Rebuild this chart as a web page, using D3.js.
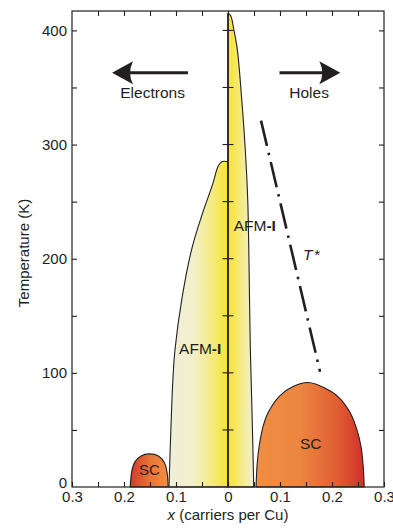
<!DOCTYPE html>
<html>
<head>
<meta charset="utf-8">
<script src="https://cdn.jsdelivr.net/npm/d3@7"></script>
<style>
  body { margin: 0; background: #fff; }
  svg text { font-family: "Liberation Sans", Arial, Helvetica, sans-serif; fill: #231f20; }
</style>
</head>
<body>
<svg id="chart" width="393" height="529"></svg>
<script>
// Data: x = carriers per Cu (electrons negative), T in K
const xTicks = d3.range(-0.3, 0.3001, 0.05).map(v => +v.toFixed(2));
const xLabels = [-0.3, -0.2, -0.1, 0, 0.1, 0.2, 0.3];
const tTicks = d3.range(0, 401, 50);
const tLabels = [0, 100, 200, 300, 400];

// AFM-I on the electron side, from the top at x = 0 down to the axis
const afmElectron = [[0, 285], [-0.012, 285], [-0.019, 281], [-0.029, 266], [-0.051, 237],
  [-0.070, 208], [-0.089, 164], [-0.102, 120], [-0.106, 94], [-0.1135, 0]];
// AFM-I on the hole side
const afmHole = [[0, 415], [0.005, 413], [0.0115, 400], [0.018, 383], [0.0265, 339],
  [0.0333, 295], [0.038, 251], [0.040, 208], [0.043, 120], [0.0465, 60], [0.0495, 0]];
// superconducting domes
const scElectron = [[-0.188, 0], [-0.185, 14], [-0.179, 22], [-0.168, 27], [-0.151, 29],
  [-0.133, 27], [-0.122, 21], [-0.117, 12], [-0.115, 0]];
const scHole = [[0.054, 0], [0.056, 20], [0.060, 36], [0.068, 54], [0.077, 65], [0.100, 80],
  [0.125, 88], [0.154, 91.5], [0.185, 87], [0.212, 79], [0.235, 65], [0.248, 50],
  [0.256, 35], [0.260, 18], [0.262, 0]];
// T* crossover line
const tStar = [[0.0635, 321], [0.177, 101]];

const svg = d3.select('#chart');
const x = d3.scaleLinear().domain([-0.3, 0.3]).range([72, 384]);
const y = d3.scaleLinear().domain([0, 417]).range([487, 11]);
const ink = '#231f20';

// gradients
const defs = svg.append('defs');
const addGrad = (id, x1, x2, stops) => {
  const g = defs.append('linearGradient')
    .attr('id', id)
    .attr('gradientUnits', 'userSpaceOnUse')
    .attr('x1', x(x1)).attr('x2', x(x2))
    .attr('y1', 0).attr('y2', 0);
  stops.forEach(s => g.append('stop').attr('offset', s[0]).attr('stop-color', s[1]));
};
addGrad('gAfmE', -0.1135, 0, [[0, '#efefd8'], [0.4, '#f2f0cc'], [0.75, '#f5ea7a'], [1, '#f7e42a']]);
addGrad('gAfmH', 0, 0.0495, [[0, '#f7e42a'], [0.25, '#f6e75a'], [1, '#f1f0d6']]);
addGrad('gScE', -0.188, -0.115, [[0, '#d43a27'], [0.55, '#e8773a'], [1, '#f08e42']]);
addGrad('gScH', 0.054, 0.262, [[0, '#f08e42'], [0.4, '#ec8640'], [0.75, '#e15e33'], [1, '#d0302a']]);

const curve = d3.line().x(d => x(d[0])).y(d => y(d[1])).curve(d3.curveCatmullRom.alpha(0.5));

// dome shapes, closed along the axis / the x = 0 line
const drawShape = (pts, fill, close) => {
  svg.append('path')
    .attr('d', curve(pts) + close)
    .attr('fill', fill)
    .attr('stroke', ink)
    .attr('stroke-width', 1.1)
    .attr('stroke-linejoin', 'round');
};
drawShape(afmElectron, 'url(#gAfmE)', `L${x(0)},${y(0)}Z`);
drawShape(afmHole, 'url(#gAfmH)', `L${x(0)},${y(0)}Z`);
drawShape(scElectron, 'url(#gScE)', 'Z');
drawShape(scHole, 'url(#gScH)', 'Z');

// x = 0 line with its own little ticks
svg.append('line')
  .attr('x1', x(0)).attr('x2', x(0))
  .attr('y1', y(0)).attr('y2', y(415))
  .attr('stroke', ink).attr('stroke-width', 1.6);
svg.append('g').selectAll('line')
  .data(tTicks.filter(t => t > 0))
  .join('line')
  .attr('x1', x(0) - 5.5).attr('x2', x(0) + 5.5)
  .attr('y1', d => y(d)).attr('y2', d => y(d))
  .attr('stroke', ink).attr('stroke-width', 1.1);

// T* dash-dot line
svg.append('line')
  .attr('x1', x(tStar[0][0])).attr('y1', y(tStar[0][1]))
  .attr('x2', x(tStar[1][0])).attr('y2', y(tStar[1][1]))
  .attr('stroke', ink).attr('stroke-width', 2.6)
  .attr('stroke-dasharray', '26,7,2.5,7');

// axes (ticks point inward)
const fmtX = d => xLabels.some(v => Math.abs(v - d) < 1e-9) ? d3.format('.1~f')(Math.abs(d)) : '';
const fmtT = d => tLabels.includes(d) ? d : '';

const styleAxis = g => {
  g.select('.domain').remove();
  g.selectAll('.tick line').attr('stroke', ink).attr('stroke-width', 1.1);
  g.selectAll('.tick text').style('font-size', '15px').attr('fill', ink);
};

svg.append('g')
  .attr('transform', `translate(0,${y(0)})`)
  .call(d3.axisBottom(x).tickValues(xTicks).tickSizeInner(-5).tickSizeOuter(0).tickPadding(4).tickFormat(fmtX))
  .call(styleAxis);
svg.append('g')
  .attr('transform', `translate(0,${y(417)})`)
  .call(d3.axisTop(x).tickValues(xTicks.slice(1, -1)).tickSizeInner(-5).tickSizeOuter(0).tickFormat(''))
  .call(styleAxis);
svg.append('g')
  .attr('transform', `translate(${x(-0.3)},0)`)
  .call(d3.axisLeft(y).tickValues(tTicks.slice(1)).tickSizeInner(-5).tickSizeOuter(0).tickPadding(5).tickFormat(fmtT))
  .call(styleAxis);
svg.append('g')
  .attr('transform', `translate(${x(0.3)},0)`)
  .call(d3.axisRight(y).tickValues(tTicks.slice(1)).tickSizeInner(-5).tickSizeOuter(0).tickFormat(''))
  .call(styleAxis);

// the "0" on the temperature axis sits just above the corner
svg.append('text')
  .attr('x', x(-0.3) - 5).attr('y', y(0) + 1)
  .attr('text-anchor', 'end')
  .style('font-size', '15px')
  .text('0');

// frame
svg.append('rect')
  .attr('x', x(-0.3)).attr('y', y(417))
  .attr('width', x(0.3) - x(-0.3)).attr('height', y(0) - y(417))
  .attr('fill', 'none').attr('stroke', ink).attr('stroke-width', 1.2);

// axis titles
const xt = svg.append('text')
  .attr('x', x(0)).attr('y', 520)
  .attr('text-anchor', 'middle')
  .style('font-size', '15px');
xt.append('tspan').style('font-style', 'italic').text('x');
xt.append('tspan').text(' (carriers per Cu)');

svg.append('text')
  .attr('transform', `translate(29,${y(205)}) rotate(-90)`)
  .attr('text-anchor', 'middle')
  .style('font-size', '15px')
  .text('Temperature (K)');

// arrows
const arrow = (from, to, tt) => {
  const x1 = x(from), x2 = x(to), yy = y(tt);
  const dir = Math.sign(x2 - x1);
  svg.append('line')
    .attr('x1', x1).attr('x2', x2 - dir * 12)
    .attr('y1', yy).attr('y2', yy)
    .attr('stroke', ink).attr('stroke-width', 3);
  svg.append('path')
    .attr('d', `M${x2},${yy} L${x2 - dir * 21},${yy - 11.5} Q${x2 - dir * 15},${yy} ${x2 - dir * 21},${yy + 11.5} Z`)
    .attr('fill', ink);
};
arrow(-0.077, -0.223, 363);
arrow(0.099, 0.216, 363);

const label = (txt, px, py, size, anchor) => svg.append('text')
  .attr('x', px).attr('y', py)
  .attr('text-anchor', anchor || 'middle')
  .style('font-size', size + 'px')
  .text(txt);

label('Electrons', x(-0.145), 98, 15.5);
label('Holes', x(0.156), 98, 15.5);
label('SC', x(-0.151), 475, 15);
label('SC', x(0.159), 448.5, 15.5);

const afm = (px, py) => {
  const t = svg.append('text').attr('x', px).attr('y', py).style('font-size', '15.5px');
  t.append('tspan').text('AFM');
  t.append('tspan').style('font-weight', 'bold').text('-I');
};
afm(x(0.011), 231);
afm(x(-0.094), 354);

const ts = svg.append('text').attr('x', x(0.144)).attr('y', 260).style('font-size', '15.5px');
ts.append('tspan').style('font-style', 'italic').text('T');
ts.append('tspan').attr('dx', 2).text('*');
</script>
</body>
</html>
